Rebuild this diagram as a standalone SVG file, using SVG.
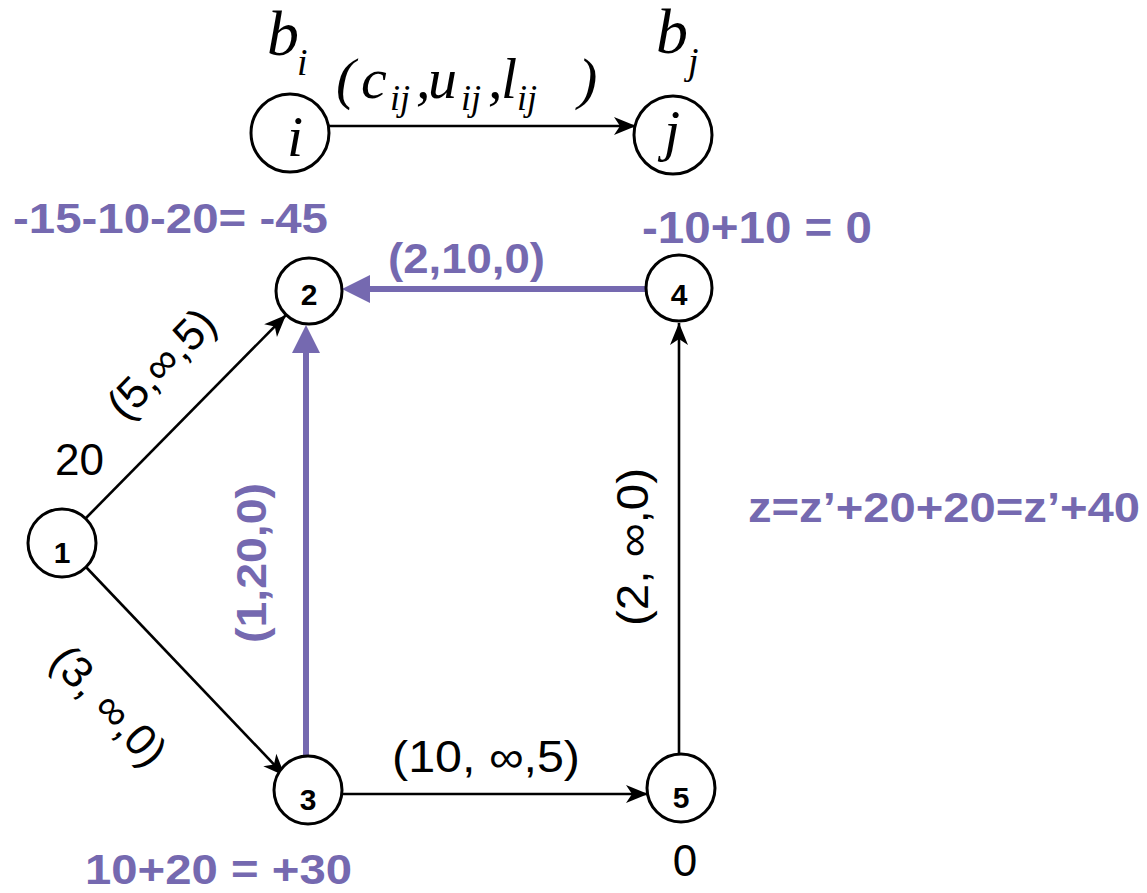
<svg xmlns="http://www.w3.org/2000/svg" width="1147" height="893" viewBox="0 0 1147 893">
<style>
.node circle{fill:#fff;stroke:#000;stroke-width:3}
.node text{font-family:"Liberation Sans",Arial,sans-serif;font-weight:bold;font-size:30px;text-anchor:middle;fill:#000}
.blk{stroke:#000;stroke-width:2.6;fill:none}
.pur{stroke:#7569B0;stroke-width:6;fill:none}
.lbl{font-family:"Liberation Sans",Arial,sans-serif;font-size:44px;fill:#000}
.plbl{font-family:"Liberation Sans",Arial,sans-serif;font-weight:bold;fill:#7569B0}
.it{font-family:"Liberation Serif","Times New Roman",serif;font-style:italic;fill:#000}
</style>
<defs>
<marker id="ab" markerUnits="userSpaceOnUse" markerWidth="24" markerHeight="20" refX="22" refY="9" orient="auto" overflow="visible">
<path d="M0,0 L22,9 L0,18 L6,9 z" fill="#000"/>
</marker>
<marker id="ap" markerUnits="userSpaceOnUse" markerWidth="30" markerHeight="30" refX="8" refY="14" orient="auto" overflow="visible">
<path d="M0,0 L28,14 L0,28 z" fill="#7569B0"/>
</marker>
</defs>
<rect width="1147" height="893" fill="#fff"/>

<g id="legend">
<circle cx="290" cy="133" r="39" fill="#fff" stroke="#000" stroke-width="3"/>
<circle cx="673" cy="135" r="39" fill="#fff" stroke="#000" stroke-width="3"/>
<line x1="329" y1="126" x2="636" y2="126" class="blk" stroke-width="3" marker-end="url(#ab)"/>
<text class="it" x="295" y="156" font-size="58" text-anchor="middle">i</text>
<text class="it" x="672" y="150" font-size="58" text-anchor="middle">j</text>
<text class="it" x="267" y="55" font-size="64">b</text>
<text class="it" x="297" y="75" font-size="38">i</text>
<text class="it" x="656" y="53" font-size="64">b</text>
<text class="it" x="688" y="74" font-size="38">j</text>
<text class="it" x="336" y="98" font-size="58">(</text>
<text class="it" x="361" y="98" font-size="58">c</text>
<text class="it" x="390" y="110" font-size="36">ij</text>
<text class="it" x="416" y="98" font-size="58">,</text>
<text class="it" x="428" y="98" font-size="58">u</text>
<text class="it" x="461" y="110" font-size="36">ij</text>
<text class="it" x="488" y="98" font-size="58">,</text>
<text class="it" x="501" y="98" font-size="58">l</text>
<text class="it" x="517" y="110" font-size="36">ij</text>
<text class="it" x="578" y="98" font-size="58">)</text>
</g>

<g id="connectors">
<line x1="85" y1="519" x2="286" y2="315" class="blk" marker-end="url(#ab)"/>
<line x1="85" y1="566" x2="285" y2="776" class="blk" marker-end="url(#ab)"/>
<line x1="341" y1="794" x2="648" y2="794" class="blk" marker-end="url(#ab)"/>
<line x1="679" y1="755" x2="679" y2="323" class="blk" marker-end="url(#ab)"/>
<line x1="646" y1="289" x2="362" y2="289" class="pur" marker-end="url(#ap)"/>
<line x1="306" y1="757" x2="306" y2="345" class="pur" marker-end="url(#ap)"/>
</g>

<g id="node1" class="node"><circle cx="62" cy="543" r="34"/><text x="62" y="563">1</text></g>
<g id="node2" class="node"><circle cx="309" cy="291" r="33"/><text x="309" y="305">2</text></g>
<g id="node3" class="node"><circle cx="308" cy="790" r="34"/><text x="308" y="810">3</text></g>
<g id="node4" class="node"><circle cx="679" cy="288" r="33"/><text x="679" y="305">4</text></g>
<g id="node5" class="node"><circle cx="681" cy="788" r="34"/><text x="681" y="808">5</text></g>

<g id="labels">
<text class="lbl" x="55" y="475">20</text>
<text class="lbl" font-size="46" text-anchor="middle" transform="translate(172,374) rotate(-46)">(5,∞,5)</text>
<text class="lbl" font-size="46" text-anchor="middle" transform="translate(98,716) rotate(47)">(3, ∞,0)</text>
<text class="lbl" text-anchor="middle" transform="translate(648,547) rotate(-90)" textLength="158" lengthAdjust="spacingAndGlyphs">(2, ∞,0)</text>
<text class="lbl" x="392" y="772" textLength="188" lengthAdjust="spacingAndGlyphs">(10, ∞,5)</text>
<text class="lbl" x="685" y="876" text-anchor="middle">0</text>

<text class="plbl" x="13" y="233" font-size="43" textLength="315" lengthAdjust="spacingAndGlyphs">-15-10-20= -45</text>
<text class="plbl" x="388" y="273" font-size="42" textLength="157" lengthAdjust="spacingAndGlyphs">(2,10,0)</text>
<text class="plbl" x="642" y="243" font-size="44" textLength="230" lengthAdjust="spacingAndGlyphs">-10+10 = 0</text>
<text class="plbl" font-size="42" text-anchor="middle" transform="translate(266,563) rotate(-90)" textLength="160" lengthAdjust="spacingAndGlyphs">(1,20,0)</text>
<text class="plbl" x="748" y="522" font-size="42" textLength="392" lengthAdjust="spacingAndGlyphs">z=z’+20+20=z’+40</text>
<text class="plbl" x="85" y="884" font-size="43" textLength="267" lengthAdjust="spacingAndGlyphs">10+20 = +30</text>
</g>
</svg>
